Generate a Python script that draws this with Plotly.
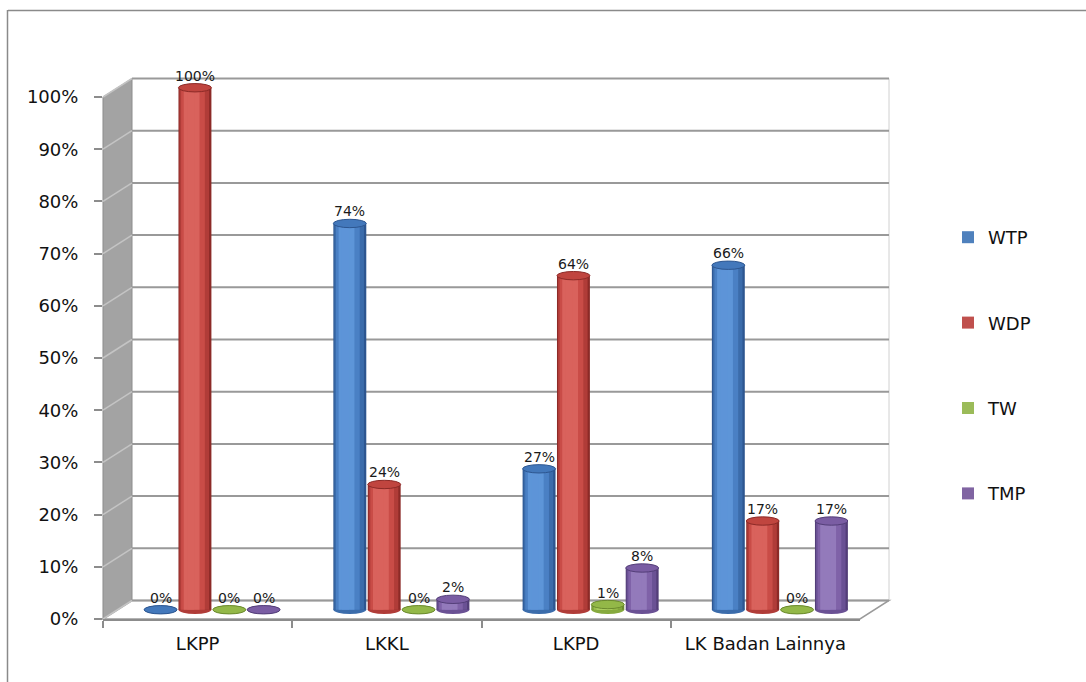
import plotly.graph_objects as go

# ---- data -------------------------------------------------------------
CATEGORIES = ["LKPP", "LKKL", "LKPD", "LK Badan Lainnya"]
SERIES = ["WTP", "WDP", "TW", "TMP"]
WTP = [0, 74, 27, 66]
WDP = [100, 24, 64, 17]
TW = [0, 0, 1, 0]
TMP = [0, 2, 8, 17]
Y_TICKS = [0, 10, 20, 30, 40, 50, 60, 70, 80, 90, 100]
Y_TICK_LABELS = [f"{v}%" for v in Y_TICKS]

VALUES = {"WTP": WTP, "WDP": WDP, "TW": TW, "TMP": TMP}

# cylinder shading: (edge, mid, base, highlight, top)
PALETTE = {
    "WTP": ("#2d5690", "#3b6cab", "#4a80c4", "#5d95d8", "#4378bb"),
    "WDP": ("#8c2a27", "#b03c38", "#c94c47", "#d9625c", "#c0453f"),
    "TW": ("#6b8a2e", "#86aa3e", "#9bc04c", "#b0d264", "#93b848"),
    "TMP": ("#533e78", "#6a5194", "#7f62a8", "#937abb", "#7a5da3"),
}
LEGEND_COLORS = {"WTP": "#4f81bd", "WDP": "#c0504d", "TW": "#9bbb59", "TMP": "#8064a2"}

# ---- 3D box geometry (pixels) ----------------------------------------
W, H = 1086, 682
FX0, FX1 = 103, 860          # front face left/right
FY0 = 619                    # front floor (0 %)
PCT = 5.22                   # pixels per percentage point
DX, DY = 29, -18.5           # depth offset of the back wall
CAT_PX = (FX1 - FX0) / len(CATEGORIES)

# bars sit half way into the box
BX0 = FX0 + DX / 2
BY0 = FY0 + DY / 2
GROUP_OFFSET = 0.1816        # distance between neighbouring bars (category units)
BAR_W = 0.174
ELL = 0.8                    # half height of cylinder caps (percent units)


def px(x, y):
    return x / W, 1 - y / H


def path(points):
    pts = [px(x, y) for x, y in points]
    return "M " + " L ".join(f"{a:.5f},{b:.5f}" for a, b in pts) + " Z"


fig = go.Figure()

shapes = []
annotations = []

# cylinder bodies as stacked shading layers (width fraction, shift, colour index)
layers = [(1.0, 0.0, 0), (0.9, -0.02, 1), (0.72, -0.06, 2), (0.48, -0.1, 3), (0.22, -0.13, 3)]
for k, name in enumerate(SERIES):
    vals = VALUES[name]
    xs = [i + (k - 1.5) * GROUP_OFFSET for i in range(len(CATEGORIES))]
    cols = PALETTE[name]
    for li, (wf, shift, ci) in enumerate(layers):
        fig.add_trace(go.Bar(
            x=[x + shift * BAR_W for x in xs],
            y=vals,
            width=BAR_W * wf,
            marker=dict(color=cols[ci], line=dict(width=0),
                        opacity=1.0 if li < 4 else 0.6),
            name=name,
            legendgroup=name,
            showlegend=False,
            hoverinfo="skip" if li else None,
        ))
    # legend entry
    fig.add_trace(go.Bar(
        x=[None], y=[None], name=name, legendgroup=name,
        marker=dict(color=LEGEND_COLORS[name], line=dict(width=0)),
        showlegend=True,
    ))
    for x, v in zip(xs, vals):
        # rounded base
        shapes.append(dict(type="circle", xref="x", yref="y", layer="below",
                           x0=x - BAR_W / 2, x1=x + BAR_W / 2, y0=-ELL, y1=ELL,
                           fillcolor=cols[1], line=dict(width=0)))
        # cap
        shapes.append(dict(type="circle", xref="x", yref="y", layer="above",
                           x0=x - BAR_W / 2, x1=x + BAR_W / 2, y0=v - ELL, y1=v + ELL,
                           fillcolor=cols[4], line=dict(width=1, color=cols[0])))
        annotations.append(dict(x=x, y=v, xref="x", yref="y", text=f"{v}%",
                                showarrow=False, yanchor="bottom", yshift=2,
                                font=dict(family="DejaVu Sans", size=14, color="#1a1a1a")))

# anchor trace for the front category axis
fig.add_trace(go.Scatter(x=CATEGORIES, y=[0] * len(CATEGORIES), xaxis="x2", yaxis="y2",
                         mode="markers", marker=dict(opacity=0), showlegend=False,
                         hoverinfo="skip"))

# ---- box decoration --------------------------------------------------
BX_L, BX_R = FX0 + DX, FX1 + DX
BY_0 = FY0 + DY
# outer frame
shapes.append(dict(type="line", xref="paper", yref="paper", layer="below",
                   x0=8 / W, x1=1, y0=1 - 10.5 / H, y1=1 - 10.5 / H,
                   line=dict(color="#8a8a8a", width=1.5)))
shapes.append(dict(type="line", xref="paper", yref="paper", layer="below",
                   x0=7.5 / W, x1=7.5 / W, y0=0, y1=1 - 10 / H,
                   line=dict(color="#8a8a8a", width=1.5)))
# floor
shapes.append(dict(type="path", xref="paper", yref="paper", layer="below",
                   path=path([(FX0, FY0), (BX_L, BY_0), (BX_R, BY_0), (FX1, FY0)]),
                   fillcolor="white", line=dict(color="#9a9a9a", width=1.5)))
# side wall
shapes.append(dict(type="path", xref="paper", yref="paper", layer="below",
                   path=path([(FX0, FY0), (FX0, FY0 - 100 * PCT),
                              (BX_L, BY_0 - 100 * PCT), (BX_L, BY_0)]),
                   fillcolor="#a3a3a3", line=dict(color="#8c8c8c", width=1)))
# back wall right edge
shapes.append(dict(type="line", xref="paper", yref="paper", layer="below",
                   x0=BX_R / W, x1=BX_R / W, y0=1 - BY_0 / H, y1=1 - (BY_0 - 100 * PCT) / H,
                   line=dict(color="#d0d0d0", width=1)))
for v in Y_TICKS:
    yb = BY_0 - v * PCT
    yf = FY0 - v * PCT
    shapes.append(dict(type="line", xref="paper", yref="paper", layer="below",
                       x0=BX_L / W, x1=BX_R / W, y0=1 - yb / H, y1=1 - yb / H,
                       line=dict(color="#999999", width=2)))
    shapes.append(dict(type="line", xref="paper", yref="paper", layer="below",
                       x0=FX0 / W, x1=BX_L / W, y0=1 - yf / H, y1=1 - yb / H,
                       line=dict(color="#c4c4c4", width=1.5)))

# ---- layout ------------------------------------------------------------
xr = [(0 - (BX0 + CAT_PX / 2)) / CAT_PX, (W - (BX0 + CAT_PX / 2)) / CAT_PX]
yr = [(BY0 - H) / PCT, BY0 / PCT]

axis_font = dict(family="DejaVu Sans", size=18, color="#111111")

fig.update_layout(
    width=W, height=H,
    margin=dict(l=0, r=0, t=0, b=0, pad=0, autoexpand=False),
    paper_bgcolor="white",
    plot_bgcolor="rgba(0,0,0,0)",
    barmode="overlay",
    showlegend=True,
    shapes=shapes,
    annotations=annotations,
    xaxis=dict(domain=[0, 1], range=xr, visible=False, fixedrange=True),
    yaxis=dict(domain=[0, 1], range=yr, visible=False, fixedrange=True),
    xaxis2=dict(domain=[FX0 / W, FX1 / W], anchor="y2", type="category",
                categoryarray=CATEGORIES, range=[-0.5, len(CATEGORIES) - 0.5],
                tickson="boundaries", ticks="outside", ticklen=7, tickwidth=1.5,
                tickcolor="#8c8c8c", showline=True, linecolor="#8c8c8c", linewidth=1.5,
                showgrid=False, zeroline=False, tickfont=axis_font,
                ticklabelstandoff=8, fixedrange=True),
    yaxis2=dict(domain=[1 - FY0 / H, 1 - (FY0 - 100 * PCT) / H], anchor="x2",
                range=[0, 100], tickvals=Y_TICKS, ticktext=Y_TICK_LABELS,
                ticks="outside", ticklen=8, tickwidth=1.5, tickcolor="#8c8c8c",
                showline=False, showgrid=False, zeroline=False, tickfont=axis_font,
                ticklabelstandoff=12, fixedrange=True),
    legend=dict(x=948 / W, xanchor="left", y=1 - 219 / H, yanchor="top",
                traceorder="grouped", tracegroupgap=59,
                font=dict(family="DejaVu Sans", size=18, color="#111111"),
                bgcolor="rgba(0,0,0,0)"),
)

fig.write_html("out.html")
